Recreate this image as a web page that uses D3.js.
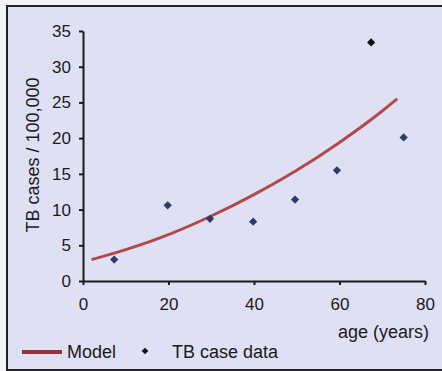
<!DOCTYPE html>
<html>
<head>
<meta charset="utf-8">
<script src="https://cdn.jsdelivr.net/npm/d3@7"></script>
<style>
  body { margin: 0; background: #f3f3f8; }
  svg { display: block; font-family: "Liberation Sans", Arial, sans-serif; }
</style>
</head>
<body>
<div id="chart"></div>
<script>
// TB case data (points) and model curve
var caseAge   = [7.3, 19.8, 29.7, 39.8, 49.6, 59.4, 67.4, 75.0];
var caseRate  = [3.0, 10.6, 8.7, 8.3, 11.4, 15.5, 33.4, 20.1];

var modelAge  = [2, 10, 20, 30, 40, 50, 60, 70, 73.5];
var modelRate = [3.0, 4.4, 6.5, 9.1, 12.1, 15.5, 19.4, 23.8, 25.5];

var xTicks = [0, 20, 40, 60, 80];
var yTicks = [0, 5, 10, 15, 20, 25, 30, 35];

var width = 442, height = 371;

var svg = d3.select("#chart").append("svg")
    .attr("width", width)
    .attr("height", height);

// panel background + frame
svg.append("rect")
    .attr("x", 7).attr("y", 6)
    .attr("width", width - 7).attr("height", 364)
    .attr("fill", "#e0e0f5");
svg.append("path")
    .attr("d", "M" + width + ",6H7V370H" + width)
    .attr("fill", "none")
    .attr("stroke", "#222")
    .attr("stroke-width", 2);

var x = d3.scaleLinear().domain([0, 80]).range([83, 425]);
var y = d3.scaleLinear().domain([0, 35]).range([281, 31]);

var yAxis = svg.append("g")
    .attr("transform", "translate(" + x(0) + ",0)")
    .call(d3.axisLeft(y).tickValues(yTicks).tickSize(4).tickSizeOuter(0).tickPadding(8));

var xAxis = svg.append("g")
    .attr("transform", "translate(0," + y(0) + ")")
    .call(d3.axisBottom(x).tickValues(xTicks).tickSize(4).tickSizeOuter(0).tickPadding(13));

[yAxis, xAxis].forEach(function(g) {
    g.select(".domain").attr("stroke", "#1a1a1a").attr("stroke-width", 2);
    g.selectAll(".tick line").attr("stroke", "#1a1a1a").attr("stroke-width", 2);
    g.selectAll(".tick text")
        .attr("fill", "#1a1a1a")
        .style("font-size", "17px")
        .style("font-family", "'Liberation Sans', Arial, sans-serif");
});

// model curve
var modelData = modelAge.map(function(a, i) { return [a, modelRate[i]]; });
var line = d3.line()
    .x(function(d) { return x(d[0]); })
    .y(function(d) { return y(d[1]); })
    .curve(d3.curveMonotoneX);

svg.append("path")
    .datum(modelData)
    .attr("d", line)
    .attr("fill", "none")
    .attr("stroke", "#b24a4c")
    .attr("stroke-width", 3);

// case data markers (square turned 45deg)
var marker = d3.symbol().type(d3.symbolSquare).size(34);
svg.append("g")
    .selectAll("path")
    .data(caseAge)
    .enter()
    .append("path")
    .attr("d", marker)
    .attr("transform", function(d, i) {
        return "translate(" + x(d) + "," + y(caseRate[i]) + ") rotate(45)";
    })
    .attr("fill", function(d, i) { return caseRate[i] > 30 ? "#111" : "#2e3a68"; });

// axis titles
svg.append("text")
    .attr("transform", "translate(33,155) rotate(-90)")
    .attr("text-anchor", "middle")
    .attr("dominant-baseline", "central")
    .style("font-size", "18px")
    .attr("fill", "#1a1a1a")
    .text("TB cases / 100,000");

svg.append("text")
    .attr("x", 429).attr("y", 338)
    .attr("text-anchor", "end")
    .style("font-size", "18px")
    .attr("fill", "#1a1a1a")
    .text("age (years)");

// legend
var legend = svg.append("g");
legend.append("line")
    .attr("x1", 22).attr("x2", 62)
    .attr("y1", 352).attr("y2", 352)
    .attr("stroke", "#9c3038")
    .attr("stroke-width", 4);
legend.append("text")
    .attr("x", 67).attr("y", 358)
    .style("font-size", "18px")
    .attr("fill", "#1a1a1a")
    .text("Model");
legend.append("path")
    .attr("d", d3.symbol().type(d3.symbolSquare).size(22))
    .attr("transform", "translate(145,351) rotate(45)")
    .attr("fill", "#111");
legend.append("text")
    .attr("x", 172).attr("y", 358)
    .style("font-size", "18px")
    .attr("fill", "#1a1a1a")
    .text("TB case data");
</script>
</body>
</html>
